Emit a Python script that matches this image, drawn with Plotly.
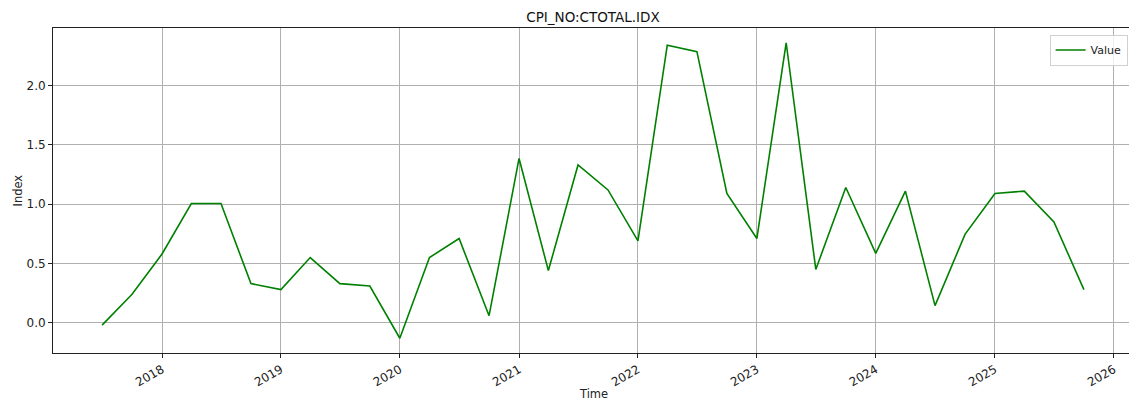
import pandas as pd
import plotly.graph_objects as go

dates = pd.date_range("2017-07-01", "2025-10-01", freq="QS-JAN")
values = [-0.02, 0.24, 0.58, 1.005, 1.005, 0.33, 0.28, 0.55, 0.33, 0.31,
          -0.13, 0.55, 0.71, 0.06, 1.385, 0.44, 1.33, 1.12, 0.69, 2.34,
          2.285, 1.09, 0.71, 2.36, 0.45, 1.14, 0.585, 1.11, 0.145, 0.745,
          1.09, 1.11, 0.85, 0.28]
title = "CPI_NO:CTOTAL.IDX"
series_name = "Value"
x_label = "Time"
y_label = "Index"

# matplotlib-like 5% margins
x0, x1 = dates.min(), dates.max()
xpad = (x1 - x0) * 0.05
ymin, ymax = min(values), max(values)
ypad = (ymax - ymin) * 0.05

# page body has an 8px margin, so the figure is drawn offset by 8px
OFF = 8
W, H = 1137 - OFF, 402 - OFF
L, R, T, B = 53 - OFF, 4, 28 - OFF, 49
font = "DejaVu Sans"
fig = go.Figure()
fig.add_trace(go.Scatter(x=dates, y=values, mode="lines", name=series_name,
                         line=dict(color="#008000", width=1.6)))

fig.update_layout(
    width=W, height=H,
    margin=dict(l=L, r=R, t=T, b=B, autoexpand=False),
    paper_bgcolor="white", plot_bgcolor="white",
    font=dict(family=font, size=11, color="#222"),
    title=dict(text=title, x=(L + W - R) / 2 / W, xanchor="center",
               y=1 - (17 - OFF) / H, yanchor="middle",
               font=dict(family=font, size=13.5, color="#111")),
    showlegend=True,
    legend=dict(x=0.995, y=0.98, xanchor="right", yanchor="top",
                bgcolor="rgba(255,255,255,0.8)", bordercolor="#d0d0d0",
                borderwidth=1, font=dict(size=11), itemwidth=30,
                tracegroupgap=0),
    annotations=[
        dict(text=x_label, xref="paper", yref="paper",
             x=0.5, y=-((394 - OFF) - (H - B)) / (H - T - B), xanchor="center",
             yanchor="middle", showarrow=False, font=dict(size=11.5)),
        dict(text=y_label, xref="paper", yref="paper",
             x=-(L - (17 - OFF)) / (W - L - R), y=0.5, xanchor="center",
             yanchor="middle", textangle=-90, showarrow=False,
             font=dict(size=11.5)),
    ],
)
fig.update_xaxes(
    range=[x0 - xpad, x1 + xpad],
    tickformat="%Y", dtick="M12", tick0="2018-01-01",
    tickangle=-30, automargin=False, tickfont=dict(size=12),
    showgrid=True, gridcolor="#b0b0b0", gridwidth=1,
    showline=True, linecolor="#222", linewidth=1, mirror=True,
    ticks="outside", ticklen=4, tickcolor="#222",
    zeroline=False,
)
fig.update_yaxes(
    range=[ymin - ypad, ymax + ypad],
    dtick=0.5, tick0=0, tickformat=".1f", automargin=False,
    tickfont=dict(size=12),
    showgrid=True, gridcolor="#b0b0b0", gridwidth=1,
    showline=True, linecolor="#222", linewidth=1, mirror=True,
    ticks="outside", ticklen=4, tickcolor="#222",
    zeroline=False,
)

fig.write_html("out.html")
